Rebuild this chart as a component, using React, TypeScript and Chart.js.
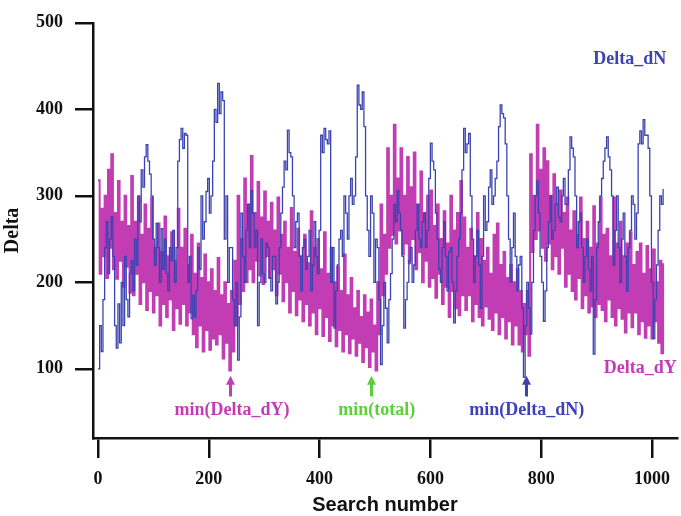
import React, { useEffect, useRef } from "react";
import { Chart, registerables } from "chart.js";

Chart.register(...registerables);

// Delta_dN (blue), one value every 3 searches (0 .. 1020)
const deltaDN: number[] = [
  100, 150, 120, 180, 240, 270, 210, 250, 276, 230,
  150, 124, 175, 130, 200, 150, 230, 180, 160, 210,
  225, 190, 250, 220, 300, 270, 330, 310, 345, 359,
  340, 325, 300, 250, 220, 268, 240, 200, 262, 215,
  250, 210, 190, 240, 225, 260, 200, 240, 340, 365,
  378, 355, 372, 370, 200, 230, 158, 185, 160, 190,
  240, 215, 300, 250, 270, 305, 320, 280, 300, 340,
  400, 385, 430, 395, 420, 410, 250, 300, 200, 240,
  240, 180, 150, 200, 110, 160, 280, 230, 200, 260,
  290, 240, 306, 280, 240, 260, 150, 200, 250, 210,
  200, 245, 240, 205, 190, 230, 230, 175, 200, 240,
  280, 310, 340, 330, 376, 350, 345, 300, 240, 270,
  280, 230, 190, 240, 250, 215, 230, 260, 190, 220,
  270, 230, 210, 260, 370, 350, 378, 365, 360, 375,
  200, 240, 147, 190, 220, 250, 260, 230, 300, 280,
  250, 300, 320, 290, 300, 345, 428, 405, 400, 420,
  380, 300, 260, 230, 300, 280, 200, 250, 240, 180,
  105, 150, 200, 170, 130, 180, 210, 250, 290, 270,
  306, 280, 260, 230, 147, 180, 200, 225, 240, 200,
  220, 260, 290, 250, 240, 270, 280, 240, 260, 320,
  361, 340, 330, 280, 250, 215, 200, 240, 270, 230,
  190, 235, 240, 200, 153, 190, 230, 250, 280, 330,
  378, 350, 360, 372, 300, 250, 200, 230, 260, 220,
  170, 230, 300, 260, 270, 310, 330, 290, 300, 320,
  340, 380, 405, 395, 390, 360, 300, 250, 200, 240,
  280, 230, 190, 220, 230, 170, 90, 150, 200, 170,
  140, 200, 260, 300, 317, 280, 230, 200, 155, 190,
  240, 270, 300, 250, 260, 290, 310, 275, 270, 300,
  320, 290, 290, 330, 368, 355, 345, 300, 240, 270,
  280, 240, 200, 230, 250, 215, 190, 230, 117, 180,
  240, 270, 300, 320, 340, 355, 368, 345, 330, 300,
  220, 260, 300, 240, 200, 250, 280, 230, 190, 240,
  260, 300, 290, 250, 280, 360, 375, 360, 388, 370,
  370, 355, 300, 200, 135, 180, 220, 260, 300, 290,
  308,
];

// Delta_dY (magenta), one value every 3 searches (0 .. 1020)
const deltaDY: number[] = [
  318, 210, 285, 230, 300, 205, 330, 240, 348, 215,
  280, 204, 317, 225, 270, 195, 300, 218, 265, 188,
  323, 185, 270, 210, 298, 175, 255, 200, 290, 168,
  262, 190, 298, 165, 240, 185, 268, 150, 235, 175,
  276, 160, 230, 180, 258, 145, 225, 170, 285, 152,
  240, 175, 262, 150, 220, 165, 255, 140, 210, 125,
  245, 150, 205, 120, 232, 145, 200, 122, 215, 135,
  190, 128, 228, 140, 185, 112, 200, 130, 175, 98,
  190, 120, 225, 150, 300, 175, 250, 190, 320, 200,
  290, 215, 346, 200, 280, 225, 316, 208, 275, 198,
  305, 230, 270, 205, 292, 215, 260, 185, 298, 210,
  255, 178, 270, 200, 240, 165, 286, 190, 235, 162,
  262, 180, 230, 155, 255, 175, 222, 150, 282, 165,
  240, 140, 250, 170, 215, 138, 258, 160, 210, 132,
  240, 150, 200, 126, 218, 145, 190, 120, 232, 140,
  185, 118, 205, 135, 170, 115, 190, 130, 160, 108,
  185, 125, 165, 102, 180, 120, 150, 98, 200, 140,
  290, 185, 255, 210, 355, 240, 300, 255, 382, 245,
  320, 260, 355, 232, 300, 245, 345, 222, 310, 250,
  350, 215, 290, 235, 328, 200, 280, 225, 300, 195,
  306, 205, 265, 182, 290, 210, 250, 175, 282, 195,
  245, 160, 300, 190, 260, 170, 280, 162, 317, 185,
  275, 168, 240, 185, 262, 155, 230, 175, 280, 160,
  250, 150, 225, 172, 240, 158, 210, 145, 255, 165,
  268, 140, 220, 160, 235, 135, 205, 155, 220, 128,
  200, 150, 215, 128, 190, 120, 175, 140, 190, 115,
  348, 235, 300, 250, 382, 260, 330, 240, 355, 225,
  340, 245, 300, 215, 325, 230, 290, 210, 306, 240,
  280, 195, 298, 210, 260, 190, 282, 180, 255, 205,
  298, 170, 250, 185, 270, 165, 240, 172, 288, 160,
  245, 175, 298, 168, 255, 155, 262, 180, 230, 160,
  298, 150, 245, 170, 270, 158, 230, 142, 245, 165,
  258, 148, 220, 165, 235, 140, 245, 155, 210, 136,
  242, 150, 215, 135, 238, 155, 200, 130, 225, 118,
  222,
];

// search number of each value
const searchNumbers: number[] = deltaDN.map((_, i) => i * 3);

const xTicks = [0, 200, 400, 600, 800, 1000];
const yTicks = [100, 200, 300, 400, 500];

const BLUE = "#3b43b2";
const MAGENTA = "#c23cb4";
const GREEN = "#5ccf3c";

const arrowMarks = [
  { label: "min(Delta_dY)", x: 238, textX: 242, color: MAGENTA },
  { label: "min(total)", x: 493, textX: 503, color: GREEN },
  { label: "min(Delta_dN)", x: 772, textX: 774, color: BLUE },
];

const seriesLabels = [
  { label: "Delta_dN", x: 894, y: 458, color: BLUE },
  { label: "Delta_dY", x: 913, y: 101, color: MAGENTA },
];

const SERIF = '"Liberation Serif", "Times New Roman", serif';

const annotationPlugin = {
  id: "annotations",
  afterDatasetsDraw(chart: any) {
    const { ctx, scales } = chart;
    const xs = scales.x;
    const ys = scales.y;
    ctx.save();
    ctx.font = `bold 18px ${SERIF}`;
    ctx.textBaseline = "middle";
    for (const a of arrowMarks) {
      const px = Math.round(xs.getPixelForValue(a.x)) + 0.5;
      const top = ys.getPixelForValue(92);
      const bot = ys.getPixelForValue(68);
      ctx.strokeStyle = a.color;
      ctx.fillStyle = a.color;
      ctx.lineWidth = 3;
      ctx.beginPath();
      ctx.moveTo(px, top + 7);
      ctx.lineTo(px, bot);
      ctx.stroke();
      ctx.beginPath();
      ctx.moveTo(px, top);
      ctx.lineTo(px - 4.5, top + 9);
      ctx.lineTo(px + 4.5, top + 9);
      ctx.closePath();
      ctx.fill();
      ctx.textAlign = "center";
      ctx.fillText(a.label, xs.getPixelForValue(a.textX), ys.getPixelForValue(52));
    }
    for (const s of seriesLabels) {
      ctx.fillStyle = s.color;
      ctx.textAlign = "left";
      ctx.fillText(s.label, xs.getPixelForValue(s.x), ys.getPixelForValue(s.y));
    }
    ctx.restore();
  },
};

export default function App() {
  const canvasRef = useRef<HTMLCanvasElement | null>(null);

  useEffect(() => {
    const canvas = canvasRef.current;
    if (!canvas) return;
    const chart = new Chart(canvas, {
      type: "line",
      data: {
        datasets: [
          {
            label: "Delta_dN",
            data: searchNumbers.map((x, i) => ({ x, y: deltaDN[i] })),
            borderColor: BLUE,
            borderWidth: 1.3,
            pointRadius: 0,
            tension: 0,
            stepped: true,
            fill: false,
          },
          {
            label: "Delta_dY",
            data: searchNumbers.map((x, i) => ({ x, y: deltaDY[i] })),
            borderColor: MAGENTA,
            borderWidth: 2,
            pointRadius: 0,
            tension: 0,
            stepped: true,
            fill: false,
          },
        ],
      },
      options: {
        animation: false,
        responsive: false,
        devicePixelRatio: 1,
        layout: { padding: 0 },
        plugins: {
          legend: { display: false },
          tooltip: { enabled: false },
        },
        scales: {
          x: {
            type: "linear",
            min: -9,
            max: 1045,
            afterBuildTicks: (scale: any) => {
              scale.ticks = xTicks.map((v) => ({ value: v }));
            },
            afterFit: (scale: any) => {
              scale.height = 78;
            },
            grid: {
              display: true,
              drawOnChartArea: false,
              drawTicks: true,
              tickLength: 20,
              lineWidth: 2.5,
              color: "#111",
            },
            border: { display: true, width: 2.5, color: "#111" },
            ticks: {
              autoSkip: false,
              maxRotation: 0,
              padding: 11,
              color: "#111",
              font: { family: SERIF, size: 18, weight: "bold" },
              callback: (v: any) => String(v),
            },
            title: {
              display: true,
              text: "Search number",
              color: "#111",
              font: { family: '"Liberation Sans", Arial, sans-serif', size: 20, weight: "bold", lineHeight: 1 },
              padding: { top: 0, bottom: 1 },
            },
          },
          y: {
            type: "linear",
            min: 20,
            max: 500,
            afterBuildTicks: (scale: any) => {
              scale.ticks = yTicks.map((v) => ({ value: v }));
            },
            afterFit: (scale: any) => {
              scale.width = 93;
            },
            grid: {
              display: true,
              drawOnChartArea: false,
              drawTicks: true,
              tickLength: 18,
              lineWidth: 2.5,
              color: "#111",
            },
            border: { display: true, width: 2.5, color: "#111" },
            ticks: {
              autoSkip: false,
              padding: 12,
              color: "#111",
              font: { family: SERIF, size: 18, weight: "bold" },
              callback: (v: any) => String(v),
            },
            title: {
              display: true,
              text: "Delta",
              color: "#111",
              font: { family: SERIF, size: 20, weight: "bold", lineHeight: 1 },
              padding: { top: 3, bottom: 0 },
            },
          },
        },
      },
      plugins: [annotationPlugin],
    });
    return () => chart.destroy();
  }, []);

  return (
    <div style={{ position: "fixed", left: 0, top: 0, width: 681, height: 516, background: "#fff" }}>
      <canvas ref={canvasRef} width={681} height={516} style={{ display: "block" }} />
    </div>
  );
}
